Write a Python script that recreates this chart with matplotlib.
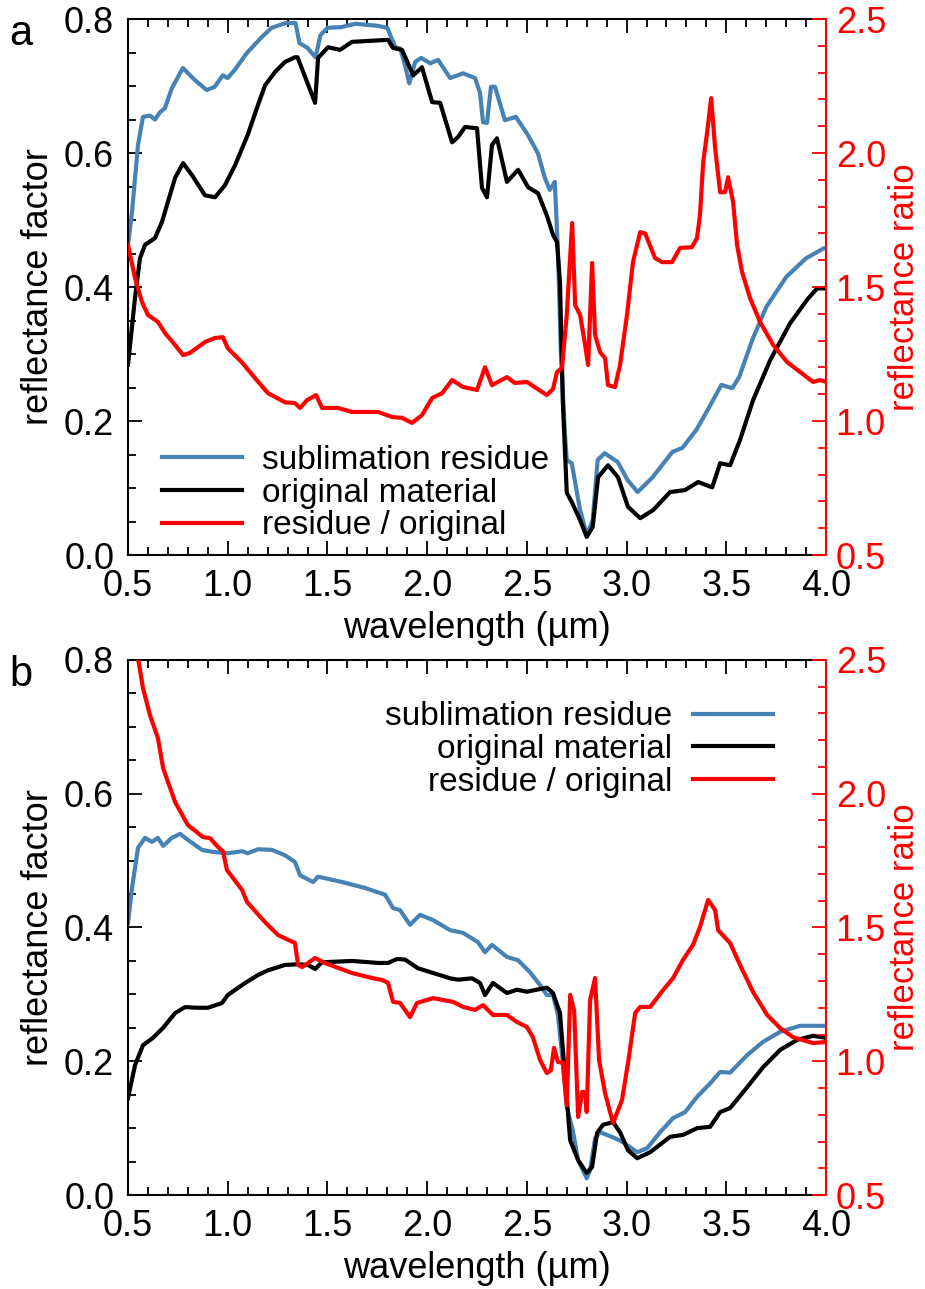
import matplotlib
matplotlib.use("Agg")
import matplotlib.pyplot as plt
from matplotlib.ticker import MultipleLocator
import numpy as np

plt.rcParams['font.family'] = ['Liberation Sans', 'DejaVu Sans']

BLUE = '#4682b4'
RED = '#ff0000'

# ---- panel a: wavelength (um) / value pairs ----
a_res_wl = [0.50, 0.52, 0.55, 0.575, 0.61, 0.635, 0.66, 0.685, 0.72, 0.775, 0.835, 0.895, 0.935,
            0.975, 1.00, 1.035, 1.095, 1.17, 1.22, 1.29, 1.34, 1.36, 1.40, 1.44, 1.465, 1.50, 1.57,
            1.64, 1.75, 1.80, 1.84, 1.865, 1.89, 1.91, 1.94, 1.97, 2.015, 2.055, 2.115, 2.18, 2.24,
            2.265, 2.28, 2.30, 2.32, 2.34, 2.39, 2.445, 2.505, 2.555, 2.59, 2.615, 2.64, 2.655,
            2.67, 2.69, 2.70, 2.725, 2.765, 2.80, 2.83, 2.855, 2.89, 2.955, 3.005, 3.055, 3.13,
            3.23, 3.28, 3.35, 3.415, 3.475, 3.53, 3.565, 3.63, 3.70, 3.80, 3.90, 3.99, 4.00]
a_res = [0.463, 0.512, 0.612, 0.654, 0.656, 0.650, 0.661, 0.667, 0.697, 0.727, 0.709, 0.694, 0.699,
         0.716, 0.712, 0.724, 0.749, 0.773, 0.787, 0.794, 0.794, 0.764, 0.757, 0.743, 0.776, 0.787,
         0.788, 0.793, 0.790, 0.787, 0.758, 0.756, 0.730, 0.704, 0.736, 0.742, 0.734, 0.739, 0.712,
         0.719, 0.712, 0.690, 0.646, 0.645, 0.699, 0.699, 0.649, 0.654, 0.627, 0.600, 0.563, 0.545,
         0.557, 0.458, 0.309, 0.184, 0.142, 0.137, 0.070, 0.030, 0.052, 0.142, 0.152, 0.139, 0.112,
         0.094, 0.116, 0.154, 0.160, 0.187, 0.221, 0.254, 0.249, 0.266, 0.321, 0.370, 0.415, 0.443,
         0.458, 0.458]

a_orig_wl = [0.50, 0.535, 0.56, 0.585, 0.635, 0.67, 0.70, 0.736, 0.776, 0.821, 0.886, 0.936, 0.986,
             1.037, 1.10, 1.152, 1.187, 1.237, 1.287, 1.337, 1.35, 1.438, 1.453, 1.503, 1.563, 1.623,
             1.804, 1.829, 1.874, 1.93, 1.974, 2.025, 2.065, 2.125, 2.155, 2.19, 2.25, 2.275, 2.30,
             2.325, 2.35, 2.40, 2.456, 2.506, 2.556, 2.60, 2.631, 2.651, 2.666, 2.68, 2.70, 2.727,
             2.767, 2.80, 2.83, 2.857, 2.907, 2.957, 3.007, 3.068, 3.133, 3.218, 3.293, 3.359, 3.429,
             3.469, 3.519, 3.569, 3.634, 3.72, 3.82, 3.905, 3.955, 4.00]
a_orig = [0.284, 0.384, 0.443, 0.463, 0.473, 0.497, 0.527, 0.563, 0.585, 0.567, 0.537, 0.534, 0.552,
          0.582, 0.627, 0.672, 0.701, 0.721, 0.736, 0.743, 0.743, 0.675, 0.742, 0.758, 0.754, 0.766,
          0.769, 0.757, 0.754, 0.716, 0.728, 0.676, 0.675, 0.616, 0.624, 0.639, 0.637, 0.548, 0.534,
          0.612, 0.622, 0.557, 0.575, 0.549, 0.540, 0.507, 0.478, 0.467, 0.407, 0.231, 0.093, 0.078,
          0.052, 0.027, 0.042, 0.116, 0.134, 0.116, 0.072, 0.055, 0.067, 0.094, 0.097, 0.109, 0.101,
          0.137, 0.134, 0.172, 0.231, 0.291, 0.346, 0.381, 0.398, 0.398]

a_ratio_wl = [0.50, 0.535, 0.57, 0.60, 0.65, 0.686, 0.736, 0.776, 0.81, 0.886, 0.936, 0.976, 1.00,
              1.07, 1.137, 1.202, 1.287, 1.337, 1.363, 1.398, 1.443, 1.473, 1.553, 1.623, 1.754,
              1.824, 1.874, 1.924, 1.974, 2.025, 2.075, 2.125, 2.18, 2.25, 2.29, 2.325, 2.40, 2.44,
              2.50, 2.60, 2.631, 2.651, 2.676, 2.70, 2.727, 2.742, 2.767, 2.792, 2.807, 2.827, 2.842,
              2.867, 2.892, 2.907, 2.942, 2.967, 3.002, 3.032, 3.068, 3.093, 3.143, 3.178, 3.228,
              3.268, 3.328, 3.353, 3.368, 3.384, 3.404, 3.424, 3.444, 3.469, 3.494, 3.509, 3.534,
              3.554, 3.579, 3.619, 3.669, 3.735, 3.805, 3.87, 3.935, 3.97, 4.00]
a_ratio = [1.657, 1.534, 1.444, 1.396, 1.370, 1.328, 1.284, 1.246, 1.254, 1.295, 1.310, 1.313, 1.272,
           1.220, 1.160, 1.104, 1.070, 1.067, 1.049, 1.078, 1.097, 1.049, 1.049, 1.034, 1.034, 1.015,
           1.012, 0.993, 1.022, 1.086, 1.104, 1.153, 1.127, 1.116, 1.201, 1.134, 1.164, 1.142, 1.146,
           1.097, 1.120, 1.183, 1.198, 1.396, 1.739, 1.433, 1.396, 1.284, 1.209, 1.590, 1.321, 1.257,
           1.235, 1.134, 1.127, 1.209, 1.396, 1.593, 1.705, 1.700, 1.608, 1.593, 1.593, 1.646, 1.649,
           1.683, 1.769, 1.966, 2.078, 2.205, 2.019, 1.854, 1.854, 1.910, 1.817, 1.657, 1.556, 1.459,
           1.370, 1.284, 1.220, 1.183, 1.146, 1.153, 1.146]

# ---- panel b ----
b_res_wl = [0.50, 0.52, 0.55, 0.585, 0.62, 0.65, 0.676, 0.72, 0.761, 0.80, 0.871, 0.926, 1.00, 1.072,
            1.10, 1.152, 1.222, 1.287, 1.337, 1.363, 1.428, 1.453, 1.573, 1.689, 1.789, 1.829, 1.864,
            1.914, 1.964, 2.03, 2.115, 2.18, 2.255, 2.29, 2.325, 2.40, 2.456, 2.516, 2.566, 2.60,
            2.631, 2.656, 2.68, 2.70, 2.73, 2.757, 2.80, 2.817, 2.842, 2.867, 2.942, 2.982, 3.053,
            3.103, 3.168, 3.233, 3.293, 3.354, 3.419, 3.469, 3.519, 3.604, 3.684, 3.77, 3.87, 4.00]
b_res = [0.407, 0.459, 0.519, 0.534, 0.528, 0.534, 0.522, 0.534, 0.540, 0.531, 0.516, 0.513, 0.511,
         0.514, 0.511, 0.517, 0.516, 0.508, 0.498, 0.478, 0.468, 0.476, 0.468, 0.459, 0.449, 0.429,
         0.426, 0.404, 0.419, 0.411, 0.396, 0.392, 0.378, 0.363, 0.374, 0.356, 0.351, 0.333, 0.314,
         0.299, 0.299, 0.269, 0.199, 0.132, 0.097, 0.052, 0.025, 0.037, 0.085, 0.094, 0.085, 0.079,
         0.064, 0.070, 0.094, 0.115, 0.124, 0.147, 0.167, 0.184, 0.183, 0.209, 0.229, 0.244, 0.253,
         0.253]

b_orig_wl = [0.50, 0.535, 0.575, 0.625, 0.676, 0.736, 0.786, 0.846, 0.90, 0.971, 1.00, 1.087, 1.152,
             1.202, 1.287, 1.353, 1.403, 1.438, 1.473, 1.623, 1.754, 1.804, 1.849, 1.889, 1.954,
             2.03, 2.115, 2.155, 2.225, 2.265, 2.29, 2.33, 2.40, 2.45, 2.50, 2.55, 2.60, 2.631,
             2.666, 2.69, 2.717, 2.757, 2.80, 2.827, 2.852, 2.882, 2.932, 2.967, 3.007, 3.053, 3.118,
             3.218, 3.283, 3.354, 3.419, 3.469, 3.519, 3.604, 3.684, 3.77, 3.855, 3.935, 4.00]
b_orig = [0.145, 0.194, 0.224, 0.235, 0.250, 0.272, 0.281, 0.280, 0.280, 0.287, 0.299, 0.317, 0.329,
          0.336, 0.344, 0.345, 0.344, 0.338, 0.348, 0.350, 0.347, 0.347, 0.353, 0.352, 0.339, 0.332,
          0.324, 0.322, 0.324, 0.317, 0.299, 0.317, 0.302, 0.307, 0.304, 0.307, 0.310, 0.302, 0.272,
          0.182, 0.082, 0.052, 0.033, 0.042, 0.093, 0.105, 0.109, 0.094, 0.067, 0.055, 0.064, 0.087,
          0.090, 0.100, 0.102, 0.124, 0.130, 0.161, 0.191, 0.217, 0.232, 0.238, 0.235]

b_ratio_wl = [0.50, 0.55, 0.575, 0.61, 0.65, 0.676, 0.736, 0.80, 0.876, 0.911, 0.951, 0.976, 0.996,
              1.072, 1.097, 1.187, 1.252, 1.337, 1.353, 1.373, 1.438, 1.488, 1.623, 1.724, 1.774,
              1.804, 1.829, 1.864, 1.914, 1.949, 2.03, 2.13, 2.18, 2.24, 2.28, 2.33, 2.40, 2.45, 2.50,
              2.53, 2.566, 2.60, 2.62, 2.636, 2.656, 2.68, 2.70, 2.717, 2.737, 2.757, 2.777, 2.792,
              2.80, 2.817, 2.842, 2.862, 2.892, 2.932, 2.977, 3.007, 3.043, 3.068, 3.118, 3.183,
              3.233, 3.283, 3.333, 3.368, 3.409, 3.444, 3.459, 3.519, 3.569, 3.634, 3.705, 3.77,
              3.835, 3.935, 4.00]
b_ratio = [2.80, 2.507, 2.395, 2.294, 2.208, 2.096, 1.969, 1.883, 1.838, 1.834, 1.801, 1.785, 1.715,
           1.640, 1.595, 1.520, 1.472, 1.442, 1.360, 1.352, 1.386, 1.367, 1.330, 1.311, 1.304, 1.293,
           1.222, 1.218, 1.165, 1.218, 1.236, 1.222, 1.203, 1.192, 1.210, 1.173, 1.173, 1.147, 1.128,
           1.090, 1.005, 0.956, 0.966, 1.050, 0.997, 0.995, 0.836, 1.248, 1.190, 0.792, 0.885, 0.885,
           0.810, 1.229, 1.311, 1.005, 0.881, 0.769, 0.855, 0.993, 1.180, 1.203, 1.203, 1.266, 1.311,
           1.379, 1.435, 1.502, 1.603, 1.565, 1.490, 1.442, 1.360, 1.259, 1.173, 1.124, 1.090, 1.068,
           1.072]

labels = ['sublimation residue', 'original material', 'residue / original']

FS = 26     # tick and axis labels
LFS = 24    # legend

fig = plt.figure(figsize=(9.25, 12.89), dpi=100)


def style_panel(ax, ax2):
    ax.set_xlim(0.5, 4.0)
    ax.set_ylim(0.0, 0.8)
    ax2.set_ylim(0.5, 2.5)
    ax.xaxis.set_major_locator(MultipleLocator(0.5))
    ax.xaxis.set_minor_locator(MultipleLocator(0.1))
    ax.yaxis.set_major_locator(MultipleLocator(0.2))
    ax.yaxis.set_minor_locator(MultipleLocator(0.05))
    ax2.yaxis.set_major_locator(MultipleLocator(0.5))
    ax2.yaxis.set_minor_locator(MultipleLocator(0.1))
    ax.xaxis.set_major_formatter(plt.FormatStrFormatter('%.1f'))
    ax.yaxis.set_major_formatter(plt.FormatStrFormatter('%.1f'))
    ax2.yaxis.set_major_formatter(plt.FormatStrFormatter('%.1f'))

    ax.tick_params(which='both', direction='in', top=True, right=False, width=1.3,
                   labelsize=FS, pad=10)
    ax.tick_params(which='major', length=10)
    ax.tick_params(which='minor', length=6)
    ax2.tick_params(which='both', direction='in', colors=RED, width=1.3, labelsize=FS, pad=7)
    ax2.tick_params(which='major', length=10)
    ax2.tick_params(which='minor', length=6)

    for s in ['left', 'top', 'bottom']:
        ax.spines[s].set_linewidth(1.5)
    ax.spines['right'].set_visible(False)
    for s in ['left', 'top', 'bottom']:
        ax2.spines[s].set_visible(False)
    ax2.spines['right'].set_color(RED)
    ax2.spines['right'].set_linewidth(1.5)

    ax.set_xlabel('wavelength (µm)', fontsize=FS, labelpad=5)
    ax.set_ylabel('reflectance factor', fontsize=FS, labelpad=6)
    ax2.set_ylabel('reflectance ratio', fontsize=25, color=RED, labelpad=1)


panels = [
    ([0.1384, 0.5694, 0.7546, 0.4158], 'a', a_res_wl, a_res, a_orig_wl, a_orig, a_ratio_wl, a_ratio),
    ([0.1384, 0.0729, 0.7546, 0.4151], 'b', b_res_wl, b_res, b_orig_wl, b_orig, b_ratio_wl, b_ratio),
]

for rect, letter, rwl, rv, owl, ov, qwl, qv in panels:
    ax = fig.add_axes(rect)
    ax2 = ax.twinx()
    h1, = ax.plot(rwl, rv, color=BLUE, lw=3)
    h2, = ax.plot(owl, ov, color='black', lw=3)
    h3, = ax2.plot(qwl, qv, color=RED, lw=3)
    style_panel(ax, ax2)
    fig.text(0.010, rect[1] + rect[3] + 0.004, letter, fontsize=30, va='top', ha='left')

    if letter == 'a':
        leg = ax2.legend([h1, h2, h3], labels, loc='lower left', bbox_to_anchor=(0.02, -0.012),
                         frameon=False, fontsize=LFS, handlelength=2.4, handletextpad=0.6,
                         labelspacing=0.05, borderaxespad=0.2)
    else:
        leg = ax2.legend([h1, h2, h3], labels, loc='upper right', bbox_to_anchor=(0.952, 0.96),
                         frameon=False, fontsize=LFS, handlelength=2.4, handletextpad=0.6,
                         labelspacing=0.05, markerfirst=False, borderaxespad=0.2)
    for t in leg.get_texts():
        t.set_color('black')

fig.savefig('out.png', dpi=100)
